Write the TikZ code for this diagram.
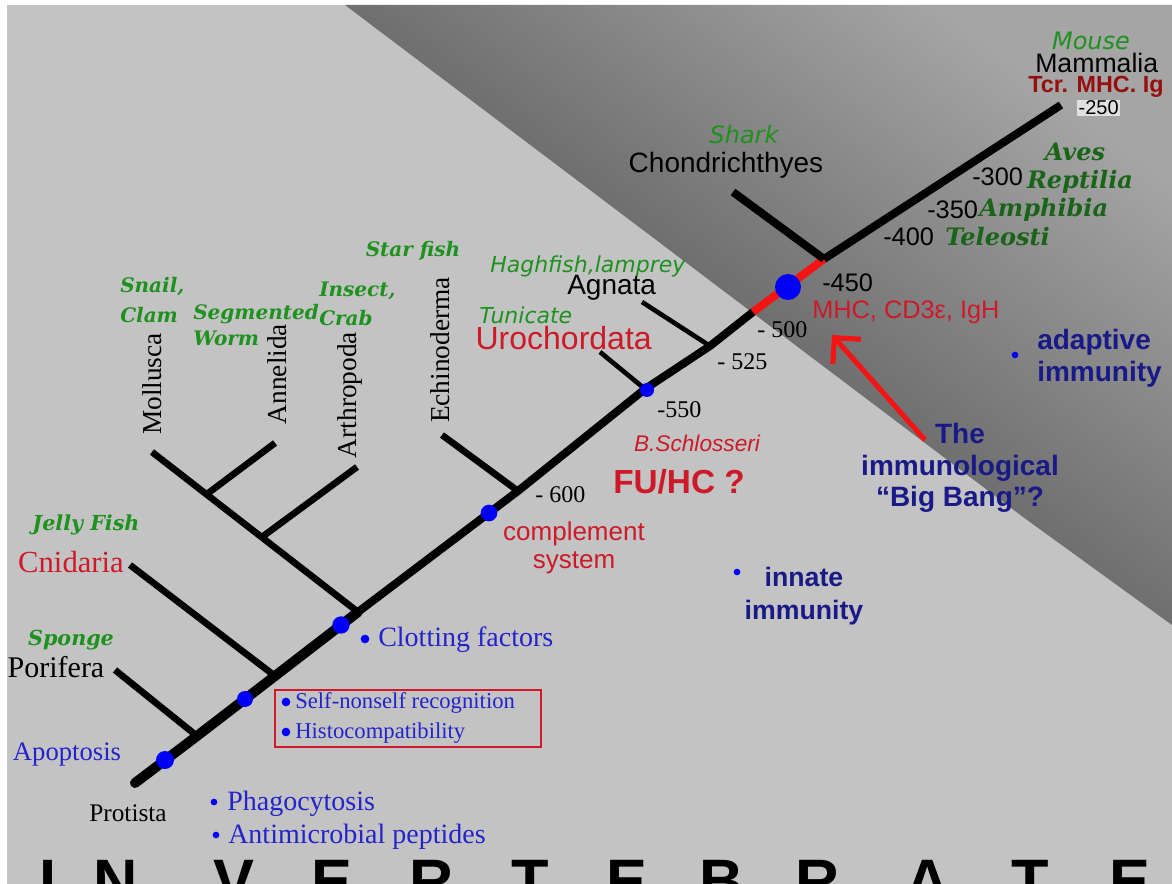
\documentclass[tikz,border=0pt]{standalone}
\usepackage{fontspec}
\setmainfont{Liberation Serif}
\setsansfont{Liberation Sans}
\newfontfamily\dvserif{DejaVu Serif}
\newfontfamily\dvsans{DejaVu Sans}
\usetikzlibrary{arrows.meta}

\definecolor{paper}{RGB}{195,195,195}
\definecolor{shadedark}{RGB}{58,58,58}
\definecolor{shadelight}{RGB}{165,165,165}
\definecolor{leafgreen}{RGB}{30,145,30}
\definecolor{deepgreen}{RGB}{25,100,25}
\definecolor{taxred}{RGB}{205,25,40}
\definecolor{darkred}{RGB}{150,15,15}
\definecolor{dotblue}{RGB}{0,0,250}
\definecolor{textblue}{RGB}{35,35,205}
\definecolor{navy}{RGB}{25,25,135}
\definecolor{branchred}{RGB}{245,20,20}

\begin{document}
\begin{tikzpicture}[x=0.75pt,y=0.75pt,yscale=-1,xscale=1,
  every node/.style={inner sep=0pt},
  trunk/.style={line width=7.5pt,line cap=round,line join=round},
  trunkup/.style={line width=6pt,line join=round},
  branch/.style={line width=5pt},
  thinbranch/.style={line width=3.5pt},
  bdot/.style={circle,fill=dotblue,minimum size=#1},
  bullet/.style={circle,fill=dotblue,minimum size=5pt},
  grnserif/.style 2 args={text=leafgreen,font={\dvserif\bfseries\itshape\fontsize{#1}{#2}\selectfont}},
  dgrnserif/.style={text=deepgreen,font={\dvserif\bfseries\itshape\fontsize{18pt}{18pt}\selectfont}},
  grnsans/.style={text=leafgreen,font={\dvsans\itshape\fontsize{#1}{#1}\selectfont}},
  blksans/.style={font={\sffamily\fontsize{#1}{#1}\selectfont}},
  blkserif/.style={font={\rmfamily\fontsize{#1}{#1}\selectfont}},
  sansnum/.style={font={\sffamily\fontsize{#1}{#1}\selectfont}},
  serifnum/.style={font={\rmfamily\fontsize{18pt}{18pt}\selectfont}},
  redsans/.style 2 args={text=taxred,font={\sffamily\fontsize{#1}{#2}\selectfont}},
  bluetxt/.style={text=textblue,font={\rmfamily\fontsize{#1}{#1}\selectfont}},
  navytxt/.style 2 args={text=navy,font={\sffamily\bfseries\fontsize{#1}{#2}\selectfont}},
  bigletter/.style={font={\sffamily\bfseries\fontsize{46pt}{46pt}\selectfont},anchor=base}]
\useasboundingbox (0,0) rectangle (1172,884);

%Background
\fill[white] (0,0) rectangle (1172,884);
\fill[paper] (7,5) rectangle (1172,884);
%Shape: dark wedge
\shade[top color=shadelight,middle color=shadedark,bottom color=shadedark,shading angle=-37] (345,5) -- (1023,517) -- (1172,625) -- (1172,5) -- cycle;

%Trunk points
\coordinate (base) at (135,783);
\coordinate (jpor) at (197,736);
\coordinate (jcni) at (275,676);
\coordinate (jmol) at (358,612);
\coordinate (jech) at (518,491);
\coordinate (juro) at (645,389);
\coordinate (jagn) at (710,346);
\coordinate (rstart) at (753,312);
\coordinate (jcho) at (824,259);
\coordinate (top) at (1061,105);
%Branch ends
\coordinate (epor) at (115,670);
\coordinate (ecni) at (130,565);
\coordinate (emol) at (152,452);
\coordinate (jann) at (207,494);
\coordinate (eann) at (275,443);
\coordinate (jart) at (262,537);
\coordinate (eart) at (357,467);
\coordinate (eech) at (442,435);
\coordinate (euro) at (600,352);
\coordinate (eagn) at (642,302);
\coordinate (echo) at (733,192);

%Straight Lines
\draw[trunk] (base) -- (jpor) -- (jcni) -- (jmol);
\draw[trunkup] (jmol) -- (jech) -- (juro) -- (jagn) -- (rstart);
\draw[trunkup,branchred] (rstart) -- (jcho);
\draw[trunkup] (jcho) -- (top);
\draw[branch] (jpor) -- (epor);
\draw[branch] (jcni) -- (ecni);
\draw[branch] (jmol) -- (emol);
\draw[branch] (jann) -- (eann);
\draw[branch] (jart) -- (eart);
\draw[branch] (jech) -- (eech);
\draw[thinbranch] (juro) -- (euro);
\draw[thinbranch] (jagn) -- (eagn);
\draw[trunkup] (jcho) -- (echo);

%Blue dots
\node[bdot=13.5pt] (dapo) at (165,760) {};
\node[bdot=12pt] (dself) at (245,699) {};
\node[bdot=13pt] (dclot) at (341,625) {};
\node[bdot=12.5pt] (dcomp) at (489,513) {};
\node[bdot=10.5pt] (dfuhc) at (647,390) {};
\node[bdot=19.5pt] (dmhc) at (788,287) {};

%Arrow
\coordinate (arrtail) at (925,440);
\coordinate (arrtip) at (832,335);
\draw[branchred,line width=3.8pt,-{Straight Barb[length=14pt,width=28pt]}] (arrtail) -- (arrtip);

% Text Node
\node[grnsans=18pt] (mouse) at (1091,41) {Mouse};
\node[blksans=20pt,anchor=west] (mammalia) at (1035,63) {Mammalia};
\node[text=darkred,font={\sffamily\bfseries\fontsize{17.5pt}{17.5pt}\selectfont},anchor=west] (tcr) at (1028,87) {Tcr. MHC. Ig};
\node[sansnum=15pt,anchor=west,fill=white!88!black,inner sep=1pt] (m250) at (1077,108) {-250};
\node[dgrnserif] (aves) at (1075,152) {Aves};
\node[dgrnserif] (reptilia) at (1080,182) {Reptilia};
\node[sansnum=19pt,anchor=west] (m300) at (972,177) {-300};
\node[sansnum=19pt,anchor=west] (m350) at (927,210) {-350};
\node[dgrnserif,anchor=west] (amphibia) at (979,210) {Amphibia};
\node[sansnum=19pt,anchor=west] (m400) at (883,237) {-400};
\node[dgrnserif,anchor=west] (teleosti) at (945,237) {Teleosti};
\node[grnsans=18pt] (shark) at (744,135) {Shark};
\node[blksans=21pt] (chondr) at (726,165) {Chondrichthyes};
\node[sansnum=19pt,anchor=west] (m450) at (822,283) {-450};
\node[redsans={19pt}{19pt},anchor=west] (mhc) at (812,312) {MHC, CD3ε, IgH};
\node[serifnum,anchor=west] (m500) at (757,330) {- 500};
\node[serifnum,anchor=west] (m525) at (717,362) {- 525};
\node[serifnum,anchor=west] (m550) at (657,410) {-550};
\node[serifnum,anchor=west] (m600) at (535,495) {- 600};
\node[grnsans=16.5pt,anchor=west] (hagfish) at (490,266) {Haghfish,lamprey};
\node[blksans=21pt,anchor=west] (agnata) at (567,288) {Agnata};
\node[grnsans=16.5pt,anchor=west] (tunicate) at (479,315) {Tunicate};
\node[redsans={24pt}{24pt},anchor=east] (uro) at (652,338) {Urochordata};
\node[redsans={17pt}{17pt},font={\sffamily\itshape\fontsize{17pt}{17pt}\selectfont}] (schloss) at (697,443) {B.Schlosseri};
\node[redsans={25pt}{25pt},font={\sffamily\bfseries\fontsize{25pt}{25pt}\selectfont}] (fuhc) at (679,482) {FU/HC ?};
\node[redsans={19.5pt}{21pt},align=center] (complement) at (574,548) {complement\\system};
\node[bullet] (innatedot) at (737,572) {};
\node[navytxt={20pt}{25pt},align=center] (innate) at (804,596) {innate\\immunity};
\node[bullet] (adaptdot) at (1015,355) {};
\node[navytxt={21pt}{24pt},align=left,anchor=west] (adaptive) at (1037,358) {adaptive\\immunity};
\node[navytxt={21pt}{23.5pt},align=center] (bigbang) at (960,468) {The\\immunological\\“Big Bang”?};

% Text Node: invertebrate clades
\node[grnserif={15pt}{15pt}] (starfish) at (413,251) {Star fish};
\node[grnserif={15pt}{22.5pt},align=left,anchor=west] (snail) at (120,300) {Snail,\\Clam};
\node[grnserif={15pt}{20pt},align=left,anchor=west] (segworm) at (193,325) {Segmented\\Worm};
\node[grnserif={15pt}{22pt},align=left,anchor=west] (insect) at (319,304) {Insect,\\Crab};
\node[blkserif=20.5pt,rotate=90] (mollusca) at (152,384) {Mollusca};
\node[blkserif=20.5pt,rotate=90] (annelida) at (277,374) {Annelida};
\node[blkserif=20.5pt,rotate=90] (arthropoda) at (350,395) {Arthropoda};
\node[blkserif=20.5pt,rotate=90] (echino) at (440,350) {Echinoderma};
\node[grnserif={15.5pt}{15.5pt}] (jelly) at (86,525) {Jelly Fish};
\node[blkserif=23pt,text=taxred] (cnidaria) at (71,562) {Cnidaria};
\node[grnserif={15.5pt}{15.5pt}] (sponge) at (71,640) {Sponge};
\node[blkserif=22.5pt] (porifera) at (56,667) {Porifera};
\node[bluetxt=20pt] (apoptosis) at (67,755) {Apoptosis};
\node[blkserif=19pt] (protista) at (128,813) {Protista};

% Text Node: bullets
\node[bullet] (phagodot) at (214,802) {};
\node[bluetxt=21pt,anchor=west] (phago) at (227,804) {Phagocytosis};
\node[bullet] (antidot) at (216,835) {};
\node[bluetxt=21pt,anchor=west] (antimic) at (228,837) {Antimicrobial peptides};
\draw[taxred,line width=1pt] (275,690) rectangle (541,747);
\node[bullet,minimum size=6.5pt] (selfdot) at (286,702) {};
\node[bluetxt=17pt,anchor=west] (selfnon) at (295,703) {Self-nonself recognition};
\node[bullet,minimum size=6.5pt] (histodot) at (286,732) {};
\node[bluetxt=17pt,anchor=west] (histo) at (295,733) {Histocompatibility};
\node[bullet,minimum size=6.5pt] (clotdot) at (365,639) {};
\node[bluetxt=21pt,anchor=west] (clotting) at (378,640) {Clotting factors};

% Text Node: banner
\foreach \x/\l [count=\i] in {48/I,116/N,234/V,332/E,432/R,530/T,627/E,722/B,818/R,928/A,1030/T,1130/E}
  \node[bigletter] (let\i) at (\x,902) {\l};

\end{tikzpicture}
\end{document}
